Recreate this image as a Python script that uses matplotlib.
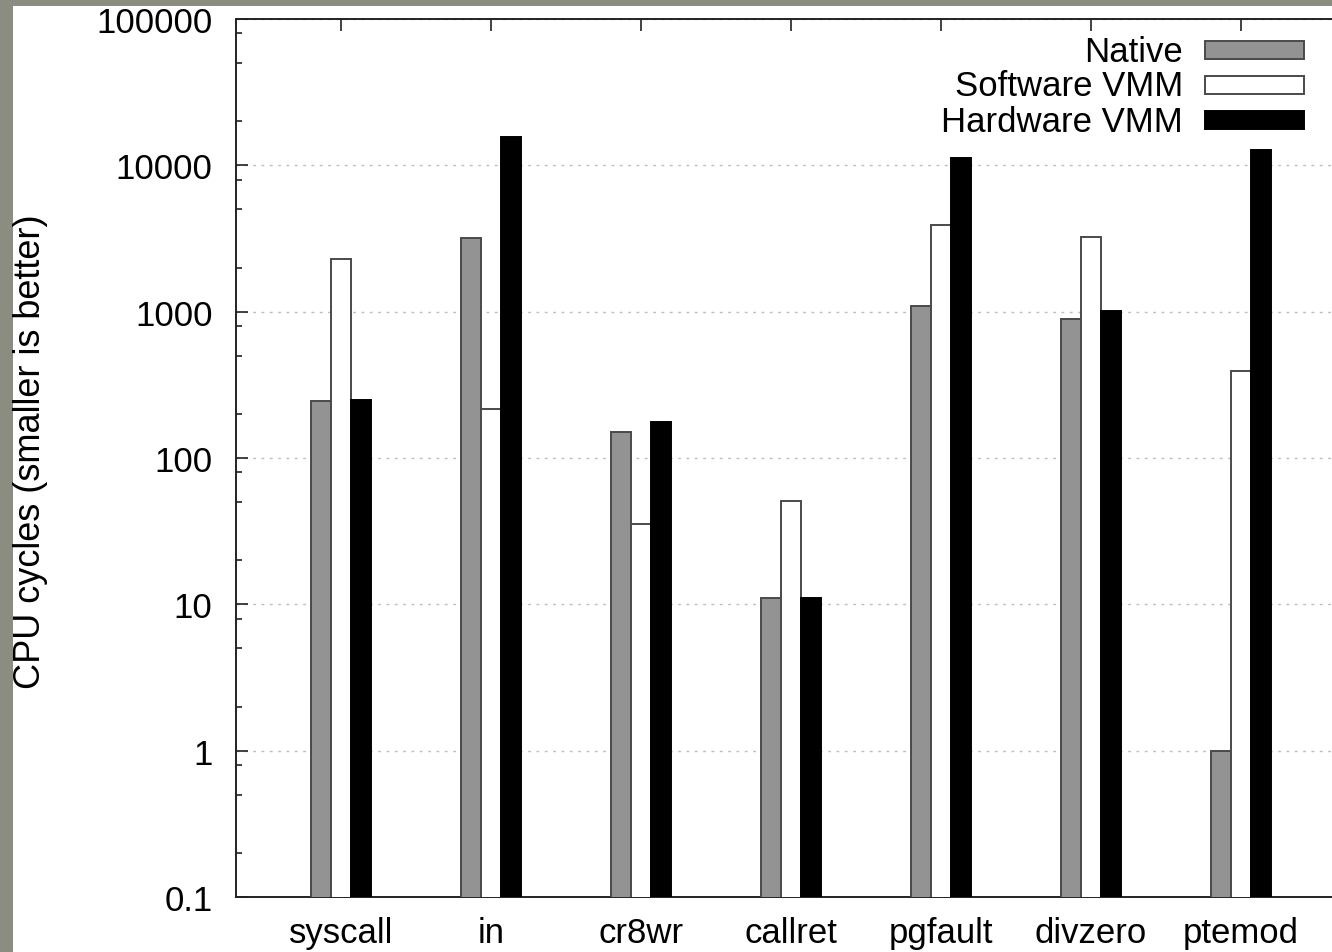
import numpy as np
import matplotlib
matplotlib.use("Agg")
import matplotlib.pyplot as plt
from matplotlib.patches import Rectangle
from matplotlib.ticker import LogLocator, FuncFormatter, NullFormatter

# ------------------------------------------------------------------ data
categories = ["syscall", "in", "cr8wr", "callret", "pgfault", "divzero", "ptemod"]
native = [245, 3190, 151, 11, 1096, 893, 1.0]
software_vmm = [2290, 217, 35.4, 51, 3920, 3245, 394]
hardware_vmm = [250, 15660, 177, 11, 11250, 1012, 12770]

series_names = ["Native", "Software VMM", "Hardware VMM"]
series_values = [native, software_vmm, hardware_vmm]
fills = ["#939393", "#ffffff", "#000000"]
edges = ["#4a4a4a", "#4a4a4a", "#000000"]

plt.rcParams["font.family"] = ["Liberation Sans", "DejaVu Sans"]
FS = 25

W, H = 1332, 953
fig = plt.figure(figsize=(W / 100, H / 100), dpi=100, facecolor="#8a8d7f")


def fx(px):
    return px / W


def fy(py):
    return 1 - py / H


# white page on the textured strip
fig.patches.append(Rectangle((fx(13), 0), 1, fy(7), transform=fig.transFigure,
                             facecolor="white", edgecolor="none", zorder=-5))

ax = fig.add_axes([fx(236), fy(898), 1 - fx(236), fy(20) - fy(898)])
ax.set_facecolor("white")

x = np.arange(len(categories))
width = 20 / 150
for i, (name, vals) in enumerate(zip(series_names, series_values)):
    ax.bar(x + (i - 1) * width, vals, width, color=fills[i], edgecolor=edges[i],
           linewidth=1.4, zorder=3, label=name)

ax.set_yscale("log")
ax.set_ylim(0.1, 100000)
ax.set_xlim((236 - 341) / 150, (1332 - 341) / 150)

ax.yaxis.set_major_locator(LogLocator(base=10, numticks=10))
ax.yaxis.set_minor_locator(LogLocator(base=10, subs=[2, 5, 8], numticks=10))
ax.yaxis.set_major_formatter(FuncFormatter(lambda v, p: f"{v:g}"))
ax.yaxis.set_minor_formatter(NullFormatter())

ax.set_xticks(x)
ax.set_xticklabels(categories)
ax.tick_params(axis="x", which="both", bottom=False, top=True, direction="in",
               length=8.5, width=1.2, labelsize=FS, pad=14, color="#222222")
ax.tick_params(axis="y", which="major", direction="in", length=8.5, width=1.2,
               labelsize=FS, pad=17, color="#222222")
ax.tick_params(axis="y", which="minor", direction="in", length=4.3, width=1.2,
               color="#222222")

ax.grid(axis="y", which="major", linestyle=(0, (2, 4)), color="#bdbdbd",
        linewidth=1.0, zorder=1)
ax.set_axisbelow(True)

for side in ["left", "top", "bottom"]:
    ax.spines[side].set_linewidth(1.4)
    ax.spines[side].set_color("#222222")
ax.spines["right"].set_visible(False)

fig.text(fx(31), fy(452), "CPU cycles (smaller is better)", rotation=90,
         ha="center", va="center", fontsize=FS + 1)

# legend, text to the left of the sample boxes
rows = [51, 86, 121]
for name, fc, ec, row in zip(series_names, fills, edges, rows):
    fig.text(fx(1183), fy(row + 1), name, ha="right", va="center", fontsize=FS)
    fig.patches.append(Rectangle((fx(1205), fy(row + 9)), fx(99), fy(0) - fy(18),
                                 transform=fig.transFigure, facecolor=fc,
                                 edgecolor=ec, linewidth=1.4, zorder=5))

fig.savefig("out.png", dpi=100, facecolor=fig.get_facecolor())
